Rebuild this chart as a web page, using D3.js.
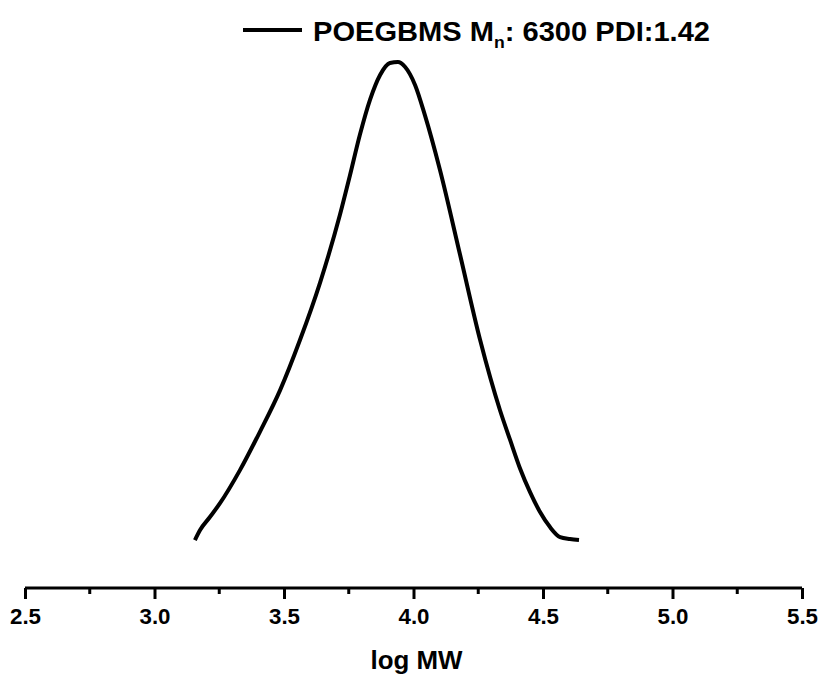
<!DOCTYPE html>
<html>
<head>
<meta charset="utf-8">
<script src="https://cdn.jsdelivr.net/npm/d3@7"></script>
<style>
  body { margin: 0; background: #fff; }
  svg text { font-family: "Liberation Sans", Arial, sans-serif; font-weight: bold; fill: #000; }
</style>
</head>
<body>
<svg id="chart"></svg>
<script>
// GPC trace (intensity normalised to peak)
const logMW = [3.156, 3.176, 3.214, 3.253, 3.330, 3.407, 3.485, 3.562, 3.639, 3.716,
  3.755, 3.793, 3.832, 3.871, 3.909, 3.940, 3.967, 4.006, 4.044, 4.102,
  4.180, 4.257, 4.334, 4.373, 4.411, 4.450, 4.488, 4.527, 4.566, 4.604, 4.639];
const intensity = [0.002, 0.023, 0.050, 0.079, 0.148, 0.228, 0.315, 0.420, 0.539, 0.681,
  0.764, 0.848, 0.921, 0.973, 0.998, 1.000, 0.990, 0.952, 0.889, 0.775,
  0.597, 0.420, 0.273, 0.211, 0.152, 0.102, 0.061, 0.029, 0.008, 0.004, 0.002];
const majorTicks = [2.5, 3.0, 3.5, 4.0, 4.5, 5.0, 5.5];
const minorTicks = [2.75, 3.25, 3.75, 4.25, 4.75, 5.25];
const xTitle = "log MW";
const seriesName = "POEGBMS M";
const seriesSub = "n";
const seriesRest = ": 6300 PDI:1.42";

const width = 822, height = 680;
const axisY = 588;

const svg = d3.select("#chart").attr("width", width).attr("height", height);

const x = d3.scaleLinear().domain([2.5, 5.5]).range([25, 802]);
const y = d3.scaleLinear().domain([0, 1]).range([541, 62]);

// x axis: major ticks
const axis = svg.append("g")
  .attr("transform", `translate(0,${axisY})`)
  .call(d3.axisBottom(x).tickValues(majorTicks).tickSize(11).tickSizeOuter(0)
    .tickFormat(d3.format(".1f")));
axis.select(".domain").attr("stroke", "#000").attr("stroke-width", 3)
  .attr("d", `M${x(2.5)},0H${x(5.5)}`);
axis.selectAll(".tick line").attr("stroke", "#000").attr("stroke-width", 3);
axis.selectAll(".tick text")
  .attr("y", 36).attr("dy", null)
  .attr("textLength", 31).attr("lengthAdjust", "spacingAndGlyphs")
  .style("font-size", "22px");

// minor ticks
svg.append("g")
  .attr("transform", `translate(0,${axisY})`)
  .selectAll("line")
  .data(minorTicks)
  .join("line")
  .attr("x1", d => x(d)).attr("x2", d => x(d))
  .attr("y1", 0).attr("y2", 6)
  .attr("stroke", "#000").attr("stroke-width", 3);

// axis title
svg.append("text")
  .attr("x", x(4.0) + 3).attr("y", 669)
  .attr("text-anchor", "middle")
  .attr("textLength", 92).attr("lengthAdjust", "spacingAndGlyphs")
  .style("font-size", "26px")
  .text(xTitle);

// curve
const line = d3.line()
  .x((d, i) => x(logMW[i]))
  .y(d => y(d))
  .curve(d3.curveMonotoneX);

svg.append("path")
  .datum(intensity)
  .attr("fill", "none")
  .attr("stroke", "#000")
  .attr("stroke-width", 4)
  .attr("stroke-linejoin", "round")
  .attr("d", line);

// legend
svg.append("line")
  .attr("x1", 243).attr("x2", 302)
  .attr("y1", 30).attr("y2", 30)
  .attr("stroke", "#000").attr("stroke-width", 4);

const leg = svg.append("text")
  .attr("x", 313).attr("y", 41)
  .attr("textLength", 397).attr("lengthAdjust", "spacingAndGlyphs")
  .style("font-size", "28px");
leg.append("tspan").text(seriesName);
leg.append("tspan").attr("dy", 7).style("font-size", "17px").text(seriesSub);
leg.append("tspan").attr("dy", -7).text(seriesRest);
</script>
</body>
</html>
